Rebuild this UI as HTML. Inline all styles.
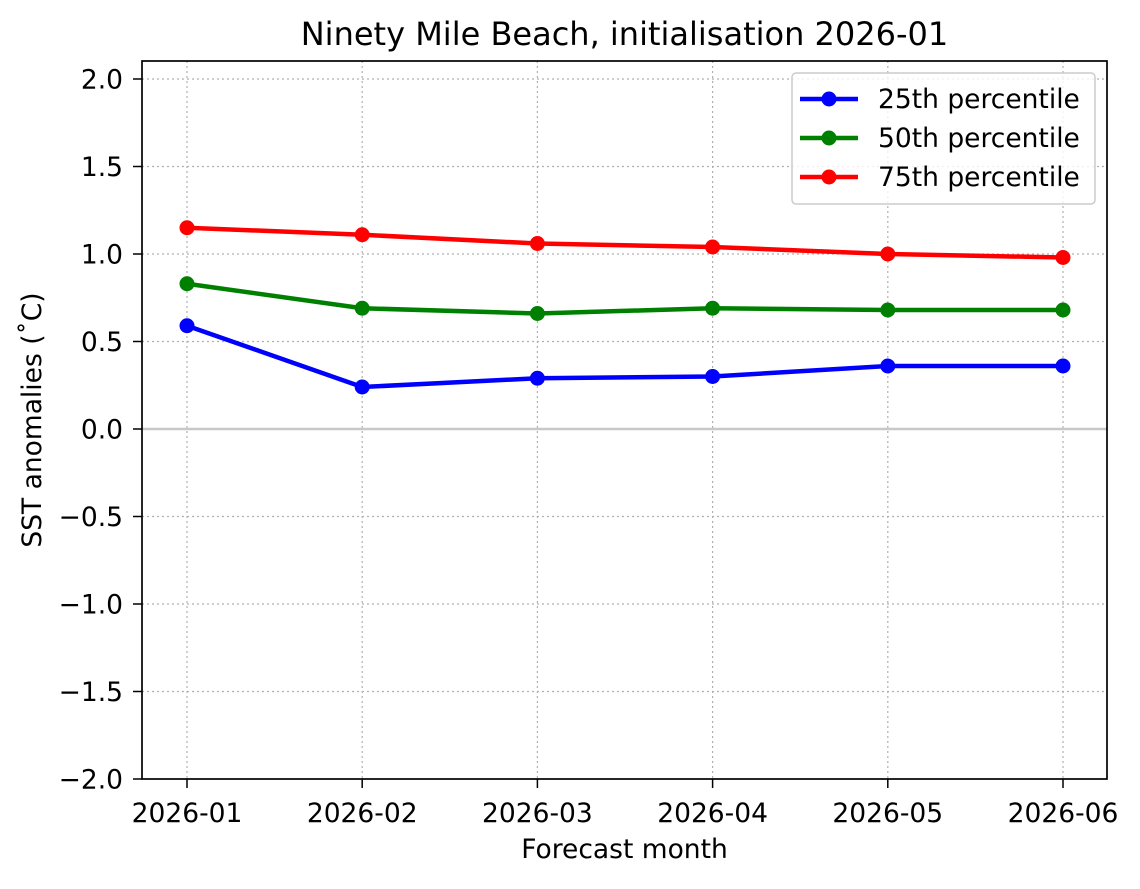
<!DOCTYPE html>
<html><head><meta charset="utf-8"><style>body{margin:0;background:#fff}</style></head><body>
<svg width="1140" height="884" xmlns="http://www.w3.org/2000/svg" font-family="DejaVu Sans, Liberation Sans, sans-serif">
<rect width="1140" height="884" fill="#fff"/>
<g stroke="#b0b0b0" stroke-width="1.2" stroke-dasharray="2,3">
<line x1="187" y1="61" x2="187" y2="779"/><line x1="362.2" y1="61" x2="362.2" y2="779"/><line x1="537.4" y1="61" x2="537.4" y2="779"/><line x1="712.6" y1="61" x2="712.6" y2="779"/><line x1="887.8" y1="61" x2="887.8" y2="779"/><line x1="1063" y1="61" x2="1063" y2="779"/>
<line x1="142" y1="79" x2="1107" y2="79"/><line x1="142" y1="166.5" x2="1107" y2="166.5"/><line x1="142" y1="254" x2="1107" y2="254"/><line x1="142" y1="341.5" x2="1107" y2="341.5"/><line x1="142" y1="516.5" x2="1107" y2="516.5"/><line x1="142" y1="604" x2="1107" y2="604"/><line x1="142" y1="691.5" x2="1107" y2="691.5"/>
</g>
<line x1="142" y1="429" x2="1107" y2="429" stroke="#c8c8c8" stroke-width="2.5"/>
<g fill="none" stroke-width="4.5">
<polyline stroke="#0000ff" points="187,325.75 362.2,387 537.4,378.25 712.6,376.5 887.8,366 1063,366"/>
<polyline stroke="#008000" points="187,283.75 362.2,308.25 537.4,313.5 712.6,308.25 887.8,310 1063,310"/>
<polyline stroke="#ff0000" points="187,227.75 362.2,234.75 537.4,243.5 712.6,247 887.8,254 1063,257.5"/>
</g>
<g fill="#0000ff"><circle cx="187" cy="325.75" r="7.5"/><circle cx="362.2" cy="387" r="7.5"/><circle cx="537.4" cy="378.25" r="7.5"/><circle cx="712.6" cy="376.5" r="7.5"/><circle cx="887.8" cy="366" r="7.5"/><circle cx="1063" cy="366" r="7.5"/></g>
<g fill="#008000"><circle cx="187" cy="283.75" r="7.5"/><circle cx="362.2" cy="308.25" r="7.5"/><circle cx="537.4" cy="313.5" r="7.5"/><circle cx="712.6" cy="308.25" r="7.5"/><circle cx="887.8" cy="310" r="7.5"/><circle cx="1063" cy="310" r="7.5"/></g>
<g fill="#ff0000"><circle cx="187" cy="227.75" r="7.5"/><circle cx="362.2" cy="234.75" r="7.5"/><circle cx="537.4" cy="243.5" r="7.5"/><circle cx="712.6" cy="247" r="7.5"/><circle cx="887.8" cy="254" r="7.5"/><circle cx="1063" cy="257.5" r="7.5"/></g>
<rect x="142" y="61" width="965" height="718" fill="none" stroke="#000" stroke-width="1.7"/>
<g stroke="#000" stroke-width="1.5">
<line x1="133" y1="79" x2="142" y2="79"/><line x1="133" y1="166.5" x2="142" y2="166.5"/><line x1="133" y1="254" x2="142" y2="254"/><line x1="133" y1="341.5" x2="142" y2="341.5"/><line x1="133" y1="429" x2="142" y2="429"/><line x1="133" y1="516.5" x2="142" y2="516.5"/><line x1="133" y1="604" x2="142" y2="604"/><line x1="133" y1="691.5" x2="142" y2="691.5"/><line x1="133" y1="779" x2="142" y2="779"/>
<line x1="187" y1="779" x2="187" y2="788"/><line x1="362.2" y1="779" x2="362.2" y2="788"/><line x1="537.4" y1="779" x2="537.4" y2="788"/><line x1="712.6" y1="779" x2="712.6" y2="788"/><line x1="887.8" y1="779" x2="887.8" y2="788"/><line x1="1063" y1="779" x2="1063" y2="788"/>
</g>
<g font-size="26.5" text-anchor="end" fill="#000">
<text x="123" y="88.5">2.0</text><text x="123" y="176">1.5</text><text x="123" y="263.5">1.0</text><text x="123" y="351">0.5</text><text x="123" y="438.5">0.0</text><text x="123" y="526">−0.5</text><text x="123" y="613.5">−1.0</text><text x="123" y="701">−1.5</text><text x="123" y="788.5">−2.0</text>
</g>
<g font-size="26.5" text-anchor="middle" fill="#000">
<text x="187" y="822">2026-01</text><text x="362.2" y="822">2026-02</text><text x="537.4" y="822">2026-03</text><text x="712.6" y="822">2026-04</text><text x="887.8" y="822">2026-05</text><text x="1063" y="822">2026-06</text>
<text x="624.5" y="858">Forecast month</text>
<text x="624.5" y="45" font-size="32">Ninety Mile Beach, initialisation 2026-01</text>
<text transform="translate(41,420) rotate(-90)">SST anomalies (˚C)</text>
</g>
<rect x="792" y="73" width="303" height="131" rx="4" fill="#fff" fill-opacity="0.8" stroke="#ccc" stroke-width="1.5"/>
<g stroke-width="4.5"><line x1="800" y1="99" x2="858" y2="99" stroke="#0000ff"/><line x1="800" y1="138" x2="858" y2="138" stroke="#008000"/><line x1="800" y1="177" x2="858" y2="177" stroke="#ff0000"/></g>
<circle cx="829" cy="99" r="7.5" fill="#0000ff"/><circle cx="829" cy="138" r="7.5" fill="#008000"/><circle cx="829" cy="177" r="7.5" fill="#ff0000"/>
<g font-size="26.5" fill="#000"><text x="878" y="108">25th percentile</text><text x="878" y="147">50th percentile</text><text x="878" y="186">75th percentile</text></g>
</svg>
</body></html>
